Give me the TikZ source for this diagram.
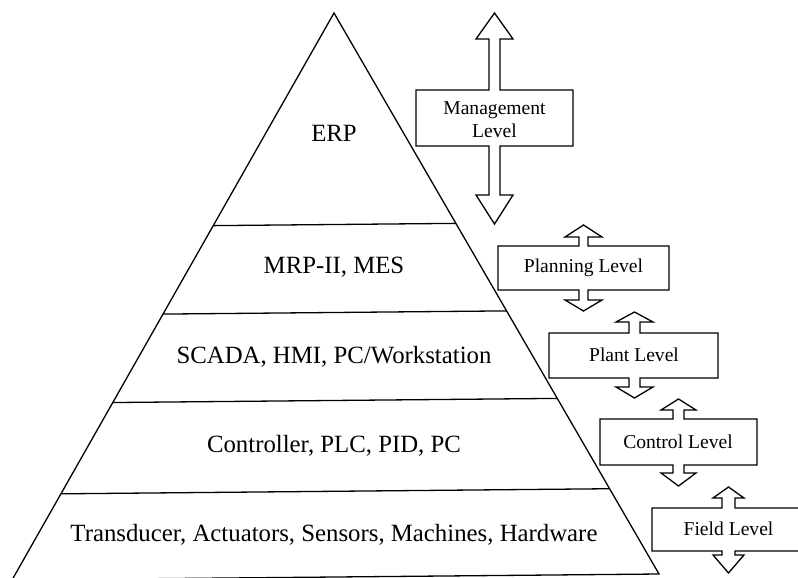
\documentclass[tikz,border=0pt]{standalone}
\usepackage{fontspec}
\setmainfont{Liberation Serif}
\usetikzlibrary{calc}

\tikzset{
  outline/.style={draw=black, line width=1.3pt, line join=miter},
  layertext/.style={font=\fontsize{24.8}{28}\selectfont, inner sep=0pt},
  leveltext/.style={font=\fontsize{19.6}{23}\selectfont, align=center, inner sep=0pt},
}

\begin{document}
\begin{tikzpicture}[x=1pt, y=-1pt]
  \useasboundingbox (0,0) rectangle (798,578);
  \fill[white] (0,0) rectangle (798,578);
  \clip (0,0) rectangle (798,578);

  % pyramid
  \coordinate (apex) at (334,13);
  \coordinate (bl) at (12,580);
  \coordinate (br) at (659,574);
  \draw[outline] (apex) -- (br) -- (bl) -- cycle;

  % layer boundaries
  \foreach \t in {0.375, 0.531, 0.687, 0.848}
    \draw[outline] ($(apex)!\t!(bl)$) -- ($(apex)!\t!(br)$);

  % layer labels
  \node[layertext] (erp)   at (334,133) {ERP};
  \node[layertext] (mrp)   at (334,267) {MRP-II, MES};
  \node[layertext] (scada) at (334,357) {SCADA, HMI, PC/Workstation};
  \node[layertext] (ctrl)  at (334,446) {Controller, PLC, PID, PC};
  \node[layertext] (hw)    at (334,535) {Transducer, Actuators, Sensors, Machines, Hardware};

  % level boxes with double-headed hollow arrows running through them
  % Management level
  \draw[outline] (494.5,13) -- (513,39) -- (500,39) -- (500,90) -- (573,90) -- (573,146)
    -- (500,146) -- (500,195) -- (513,195) -- (494.5,224) -- (476,195) -- (489,195)
    -- (489,146) -- (416,146) -- (416,90) -- (489,90) -- (489,39) -- (476,39) -- cycle;
  \node[leveltext] (mgmt) at (494.5,120) {Management\\Level};

  % Planning level
  \draw[outline] (583.5,225) -- (602,237) -- (588,237) -- (588,246) -- (669,246) -- (669,290)
    -- (588,290) -- (588,300) -- (602,300) -- (583.5,311) -- (565,300) -- (579,300)
    -- (579,290) -- (498,290) -- (498,246) -- (579,246) -- (579,237) -- (565,237) -- cycle;
  \node[leveltext] (plan) at (583.5,268) {Planning Level};

  % Plant level
  \draw[outline] (634.5,312) -- (653,322) -- (640,322) -- (640,333) -- (718,333) -- (718,378)
    -- (640,378) -- (640,387) -- (653,387) -- (634.5,398) -- (616,387) -- (629,387)
    -- (629,378) -- (549,378) -- (549,333) -- (629,333) -- (629,322) -- (616,322) -- cycle;
  \node[leveltext] (plant) at (634,355) {Plant Level};

  % Control level
  \draw[outline] (678.5,399) -- (696,410) -- (684,410) -- (684,419) -- (757,419) -- (757,465)
    -- (684,465) -- (684,473) -- (696,473) -- (678.5,486) -- (661,473) -- (673,473)
    -- (673,465) -- (600,465) -- (600,419) -- (673,419) -- (673,410) -- (661,410) -- cycle;
  \node[leveltext] (control) at (678,442) {Control Level};

  % Field level
  \draw[outline] (728.5,487) -- (744,498) -- (735,498) -- (735,508) -- (830,508) -- (830,551)
    -- (735,551) -- (735,555) -- (744,555) -- (728.5,573) -- (713,555) -- (722,555)
    -- (722,551) -- (652,551) -- (652,508) -- (722,508) -- (722,498) -- (713,498) -- cycle;
  \node[leveltext] (fieldlvl) at (728.5,529) {Field Level};
\end{tikzpicture}
\end{document}
